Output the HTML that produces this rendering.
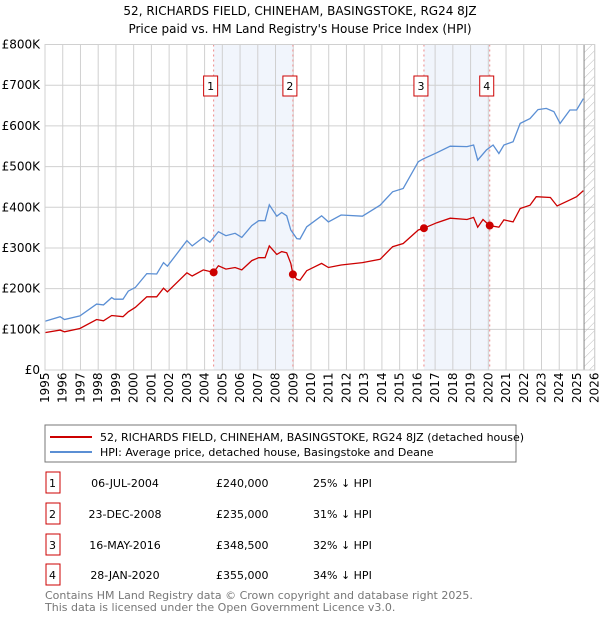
<!DOCTYPE html>
<html><head><meta charset="utf-8"><style>
body{margin:0;background:#fff;font-family:"Liberation Sans","DejaVu Sans",sans-serif;}
svg text{font-family:"DejaVu Sans","Liberation Sans",sans-serif;}
</style></head><body>
<svg id="c" width="600" height="620" xmlns="http://www.w3.org/2000/svg">
<defs><pattern id="hatch" width="6" height="6" patternUnits="userSpaceOnUse" patternTransform="rotate(45)"><line x1="0" y1="0" x2="0" y2="6" stroke="#bbb" stroke-width="1"/></pattern></defs>
<text x="300" y="15" text-anchor="middle" font-size="12">52, RICHARDS FIELD, CHINEHAM, BASINGSTOKE, RG24 8JZ</text>
<text x="300" y="33" text-anchor="middle" font-size="12">Price paid vs. HM Land Registry's House Price Index (HPI)</text>
<g id="plot"></g>
<rect x="45" y="425" width="471" height="37" fill="#fff" stroke="#777"/>
<line x1="50" y1="437" x2="92" y2="437" stroke="#cc0000" stroke-width="2"/>
<text x="100" y="441" font-size="11">52, RICHARDS FIELD, CHINEHAM, BASINGSTOKE, RG24 8JZ (detached house)</text>
<line x1="50" y1="452" x2="92" y2="452" stroke="#5b8fd4" stroke-width="2"/>
<text x="100" y="456" font-size="11">HPI: Average price, detached house, Basingstoke and Deane</text>
<g id="tbl" font-size="11"></g>
<text x="45" y="599" font-size="11" fill="#777">Contains HM Land Registry data © Crown copyright and database right 2025.</text>
<text x="45" y="611" font-size="11" fill="#777">This data is licensed under the Open Government Licence v3.0.</text>
</svg>
<script>
const hpiYears=[1995.0,1995.85,1996.1,1996.97,1997.91,1998.3,1998.76,1998.9,1999.4,1999.7,2000.1,2000.74,2001.3,2001.68,2001.9,2003.0,2003.3,2003.93,2004.3,2004.78,2005.2,2005.72,2006.1,2006.66,2007.05,2007.41,2007.65,2008.07,2008.35,2008.63,2008.86,2009.2,2009.38,2009.76,2010.6,2010.98,2011.7,2012.9,2013.9,2014.6,2015.2,2016.05,2016.3,2017.1,2017.85,2018.8,2019.17,2019.4,2019.9,2020.27,2020.6,2020.88,2021.4,2021.8,2022.35,2022.8,2023.27,2023.7,2024.05,2024.6,2024.98,2025.36];
const hpiValues=[120,131,124,133,162,160,178,174,174,194,203,237,236,264,255,318,305,326,314,340,330,336,326,355,367,367,406,378,387,379,344,323,322,352,379,364,381,378,405,438,446,512,518,534,550,549,553,516,541,553,532,553,561,606,618,640,643,635,606,639,639,667];
const ppYears=[1995.0,1995.85,1996.1,1996.97,1997.91,1998.3,1998.76,1999.4,1999.7,2000.1,2000.74,2001.3,2001.68,2001.9,2003.0,2003.3,2003.93,2004.51,2004.78,2005.2,2005.72,2006.1,2006.66,2007.05,2007.41,2007.65,2008.07,2008.35,2008.63,2008.86,2008.98,2009.2,2009.38,2009.76,2010.6,2010.98,2011.7,2012.9,2013.9,2014.6,2015.2,2016.05,2016.37,2017.1,2017.85,2018.8,2019.17,2019.4,2019.7,2020.08,2020.6,2020.88,2021.4,2021.8,2022.35,2022.7,2023.5,2023.88,2024.6,2024.98,2025.36];
const ppValues=[92,98,94,102,124,121,134,131,143,154,180,180,201,192,239,231,246,240,256,248,252,246,269,276,276,305,284,291,288,262,235,223,221,244,262,252,258,264,272,303,311,344,348.5,362,373,370,375,351,370,355,351,369,364,397,405,426,424,403,418,426,441];
const saleYears=[2004.51,2008.98,2016.37,2020.08];
const saleValues=[240,235,348.5,355];
const saleDates=["06-JUL-2004","23-DEC-2008","16-MAY-2016","28-JAN-2020"];
const salePrices=["£240,000","£235,000","£348,500","£355,000"];
const salePct=["25% ↓ HPI","31% ↓ HPI","32% ↓ HPI","34% ↓ HPI"];
const yTicks=[0,100,200,300,400,500,600,700,800];
const yTickLabels=["£0","£100K","£200K","£300K","£400K","£500K","£600K","£700K","£800K"];
const xStart=1995,xEnd=2026,dataEnd=2025.4;

const NS="http://www.w3.org/2000/svg";
const X0=45,X1=594.7,Y0=370,Y1=44.5;
const xs=y=>X0+(y-xStart)/(xEnd-xStart)*(X1-X0);
const ys=v=>Y0-v/800*(Y0-Y1);
const plot=document.getElementById('plot');
function mk(tag,attrs,parent,txt){const e=document.createElementNS(NS,tag);for(const k in attrs)e.setAttribute(k,attrs[k]);if(txt!==undefined)e.textContent=txt;(parent||plot).appendChild(e);return e;}
for(let i=0;i<saleYears.length;i+=2){
 const r=mk('rect',{x:xs(saleYears[i]),y:Y1,width:xs(saleYears[i+1])-xs(saleYears[i]),height:Y0-Y1,fill:'#eef2fb',opacity:0.8});
 
 
}
yTicks.forEach((t,i)=>{
 const l=mk('line',{x1:X0,x2:X1,y1:ys(t),y2:ys(t),stroke:'#d0d0d0','stroke-width':1});
 
 
 const tx=mk('text',{x:40,y:ys(t)+4,'text-anchor':'end','font-size':12},plot,yTickLabels[i]);
 
 
});
for(let y=xStart;y<=xEnd;y++){
 const l=mk('line',{x1:xs(y),x2:xs(y),y1:Y1,y2:Y0,stroke:'#d0d0d0','stroke-width':1});
 
 
 const tx=mk('text',{transform:`translate(${xs(y)+4},${Y0+33}) rotate(-90)`,'font-size':12},plot,String(y));
 
 
}
const h=mk('rect',{x:xs(dataEnd),y:Y1,width:X1-xs(dataEnd),height:Y0-Y1,fill:'url(#hatch)'});


const hl=mk('line',{x1:xs(dataEnd),x2:xs(dataEnd),y1:Y1,y2:Y0,stroke:'#888'});


saleYears.forEach((s,i)=>{
 const l=mk('line',{x1:xs(s),x2:xs(s),y1:Y1,y2:Y0,stroke:'#e88','stroke-dasharray':'2,3'});
 
 
 const b=mk('rect',{x:xs(s)-10,y:76,width:14,height:20,fill:'#fff',stroke:'#cc0000'});
 
 
 const t=mk('text',{x:xs(s)-3,y:90,'text-anchor':'middle','font-size':11},plot,String(i+1));
 
 
});
const line=(xa,va,col,name)=>{const p=mk('polyline',{points:xa.map((x,i)=>xs(x).toFixed(1)+','+ys(va[i]).toFixed(1)).join(' '),fill:'none',stroke:col,'stroke-width':1.3});
 
 };
line(hpiYears,hpiValues,'#5b8fd4','hpi-line');
line(ppYears,ppValues,'#cc0000','price-paid-line');
saleYears.forEach((s,i)=>{
 const c=mk('circle',{cx:xs(s),cy:ys(saleValues[i]),r:4,fill:'#cc0000'});
 
 
});
const ax=mk('rect',{x:X0,y:Y1,width:X1-X0,height:Y0-Y1,fill:'none',stroke:'#d0d0d0'});


const tbl=document.getElementById('tbl');
const rowY=[483,514,545,575];
saleDates.forEach((d,i)=>{
 const y=rowY[i];
 const b=mk('rect',{x:46,y:y-11,width:14,height:21,fill:'#fff',stroke:'#cc0000'},tbl);
 
 
 const n=mk('text',{x:52.5,y:y+4,'text-anchor':'middle'},tbl,String(i+1));
 
 
 const dt=mk('text',{x:125,y:y+4,'text-anchor':'middle'},tbl,d);
 
 
 const pr=mk('text',{x:216,y:y+4},tbl,salePrices[i]);
 
 
 const pc=mk('text',{x:313,y:y+4},tbl,salePct[i]);
 
 
});
</script>
</body></html>
